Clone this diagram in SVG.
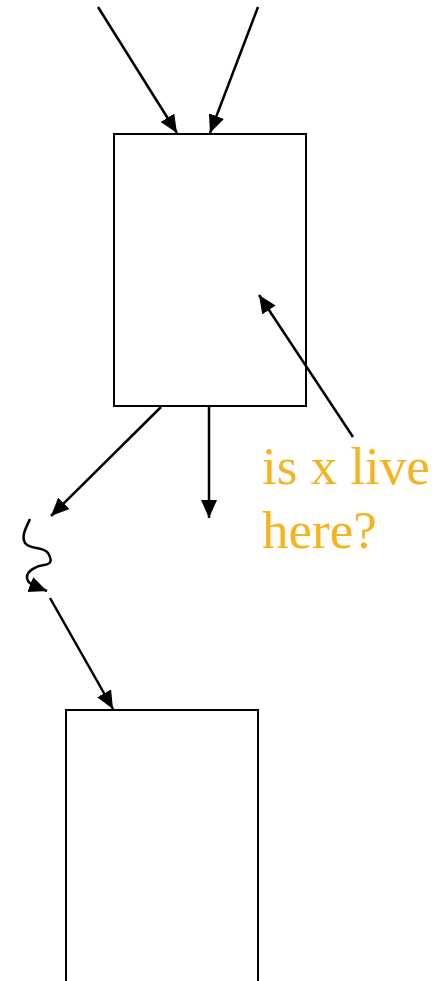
<svg xmlns="http://www.w3.org/2000/svg" width="444" height="981" viewBox="0 0 444 981">
<style>
.box{fill:#fff;stroke:#000;stroke-width:2}
.c{fill:none;stroke:#000;stroke-width:2.5;marker-end:url(#ah)}
.lbl{font-family:"Liberation Serif","Times New Roman",serif;font-size:53px;fill:#F5B41F}
</style>
<defs>
<marker id="ah" markerUnits="userSpaceOnUse" markerWidth="20" markerHeight="18" refX="18" refY="8" orient="auto" viewBox="0 0 20 18">
<path d="M0,0 L18,8 L0,16 z" fill="#000"/>
</marker>
</defs>
<rect width="444" height="981" fill="#fff"/>
<g id="block1"><rect class="box" x="114" y="134" width="192" height="272"/></g>
<g id="block2"><rect class="box" x="66" y="710" width="192" height="290"/></g>
<g id="connectors">
<line class="c" x1="98" y1="7" x2="177" y2="133"/>
<line class="c" x1="258" y1="7" x2="210" y2="133"/>
<line class="c" x1="161" y1="407" x2="51" y2="516"/>
<line class="c" x1="209" y1="407" x2="209" y2="518"/>
<line class="c" x1="353" y1="437" x2="259" y2="295"/>
<path class="c" d="M30,519 C26,528 21,536 25,543 C30,550 43,546 48,553 C52,560 52,564 44,565 C36,566 27,571 27,577 C27,584 34,586 47,591"/>
<line class="c" x1="50" y1="598" x2="113" y2="709"/>
</g>
<g id="label">
<text class="lbl" x="262" y="484">is x live</text>
<text class="lbl" x="262" y="548">here?</text>
</g>
</svg>
